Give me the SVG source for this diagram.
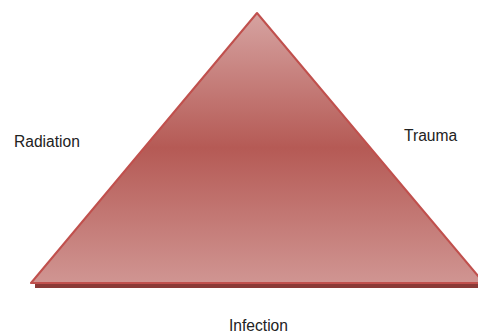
<svg xmlns="http://www.w3.org/2000/svg" width="478" height="335" viewBox="0 0 478 335">
<defs>
<linearGradient id="g" x1="0" y1="0" x2="0" y2="1">
<stop offset="0" stop-color="#d6a3a1"/>
<stop offset="0.5" stop-color="#b55a55"/>
<stop offset="1" stop-color="#d09592"/>
</linearGradient>
<style>
.lbl{font-family:"Liberation Sans",Arial,sans-serif;font-size:15.6px;fill:#222}
</style>
</defs>
<rect width="478" height="335" fill="#fff"/>
<g id="triangle">
<polygon points="35,284 486,284 486,288 35,288" fill="#8a3a37"/>
<polygon points="257,13 31,283 484,283" fill="url(#g)" stroke="#c0504d" stroke-width="2" stroke-linejoin="round"/>
</g>
<g id="radiation"><text class="lbl" x="14" y="147">Radiation</text></g>
<g id="trauma"><text class="lbl" x="404" y="141">Trauma</text></g>
<g id="infection"><text class="lbl" x="229" y="331">Infection</text></g>
<g id="connectors"/>
</svg>
